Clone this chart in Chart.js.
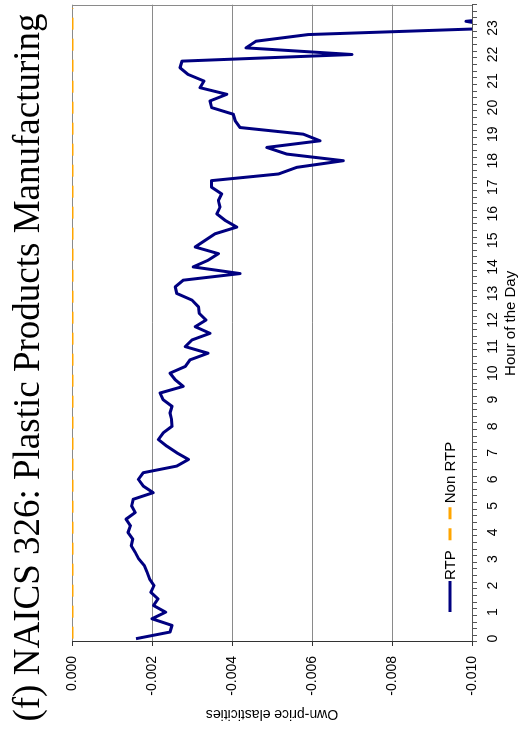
<!DOCTYPE html>
<html>
<head>
<meta charset="utf-8">
<script src="https://cdn.jsdelivr.net/npm/chart.js@4"></script>
<style>
  html, body { margin: 0; padding: 0; background: #fff; overflow: hidden; }
  #wrap { position: absolute; left: 0; top: 0; width: 731px; height: 521px;
          transform-origin: 0 0; transform: translateY(731px) rotate(-90deg); }
</style>
</head>
<body>
<div id="wrap"><canvas id="c" width="731" height="521"></canvas></div>
<script>
// ---- data (15-minute intervals) ----
const categories = [
 "0:00","0:15","0:30","0:45","1:00","1:15","1:30","1:45","2:00","2:15","2:30","2:45",
 "3:00","3:15","3:30","3:45","4:00","4:15","4:30","4:45","5:00","5:15","5:30","5:45",
 "6:00","6:15","6:30","6:45","7:00","7:15","7:30","7:45","8:00","8:15","8:30","8:45",
 "9:00","9:15","9:30","9:45","10:00","10:15","10:30","10:45","11:00","11:15","11:30","11:45",
 "12:00","12:15","12:30","12:45","13:00","13:15","13:30","13:45","14:00","14:15","14:30","14:45",
 "15:00","15:15","15:30","15:45","16:00","16:15","16:30","16:45","17:00","17:15","17:30","17:45",
 "18:00","18:15","18:30","18:45","19:00","19:15","19:30","19:45","20:00","20:15","20:30","20:45",
 "21:00","21:15","21:30","21:45","22:00","22:15","22:30","22:45","23:00","23:15","23:30","23:45"
];
const hourTickLabels = ["0","1","2","3","4","5","6","7","8","9","10","11",
  "12","13","14","15","16","17","18","19","20","21","22","23"];
const rtpValues = [
 -0.0016, -0.00245, -0.0025, -0.0020, -0.00234, -0.00204, -0.00215, -0.00197,
 -0.00205, -0.00194, -0.00188, -0.00181, -0.00167, -0.00158, -0.00148, -0.00152,
 -0.0014, -0.00146, -0.00135, -0.00158, -0.00149, -0.00153, -0.00203, -0.00178,
 -0.00166, -0.00178, -0.00262, -0.00291, -0.00262, -0.00237, -0.00216, -0.00228,
 -0.0025, -0.00249, -0.00245, -0.0025, -0.00228, -0.0022, -0.00278, -0.00258,
 -0.00245, -0.00283, -0.00295, -0.0034, -0.00283, -0.003, -0.00345, -0.00308,
 -0.00335, -0.00318, -0.00316, -0.003, -0.00262, -0.00258, -0.00278, -0.0042,
 -0.00303, -0.0034, -0.00366, -0.00308, -0.00333, -0.00358, -0.00412, -0.00383,
 -0.00362, -0.0037, -0.00366, -0.00374, -0.00349, -0.00349, -0.00516, -0.00562,
 -0.00678, -0.00537, -0.00487, -0.0062, -0.00578, -0.0042, -0.00408, -0.00403,
 -0.00349, -0.00345, -0.00387, -0.0032, -0.0033, -0.0029, -0.0027, -0.00275,
 -0.0070, -0.00435, -0.0046, -0.0059, -0.0108, -0.00985, -0.0115, -0.0115
];
const nonRtpValues = [
 0,0,0,0,0,0,0,0,0,0,0,0,0,0,0,0,0,0,0,0,0,0,0,0,
 0,0,0,0,0,0,0,0,0,0,0,0,0,0,0,0,0,0,0,0,0,0,0,0,
 0,0,0,0,0,0,0,0,0,0,0,0,0,0,0,0,0,0,0,0,0,0,0,0,
 0,0,0,0,0,0,0,0,0,0,0,0,0,0,0,0,0,0,0,0,0,0,0,0
];
const elasticityTicks = [-0.010, -0.008, -0.006, -0.004, -0.002, 0.000];
const elasticityTickLabels = ["-0.010", "-0.008", "-0.006", "-0.004", "-0.002", "0.000"];
const seriesNames = ["RTP", "Non RTP"];
const titleText = "(f) NAICS 326: Plastic Products Manufacturing";

// ---- styles ----
const RTP_COLOR = '#000080';
const NONRTP_COLOR = '#FFA500';
const SANS = "'Liberation Sans', Arial, sans-serif";

const frameRight = {
  id: 'frameRight',
  beforeDatasetsDraw(chart) {
    const {ctx, chartArea: a} = chart;
    ctx.save();
    ctx.strokeStyle = '#8a8a8a';
    ctx.lineWidth = 1;
    ctx.beginPath();
    ctx.moveTo(Math.round(a.right) - 0.5, a.top);
    ctx.lineTo(Math.round(a.right) - 0.5, a.bottom);
    ctx.stroke();
    ctx.restore();
  }
};

const innerLegend = {
  id: 'innerLegend',
  afterDatasetsDraw(chart) {
    const {ctx, chartArea: a} = chart;
    const ds = chart.data.datasets;
    const y = a.bottom - 22;
    let x = a.left + 30;
    ctx.save();
    ctx.font = "15px " + SANS;
    ctx.textBaseline = 'middle';
    ctx.fillStyle = '#000';
    ds.forEach((d, i) => {
      ctx.strokeStyle = d.borderColor;
      ctx.lineWidth = d.borderWidth;
      ctx.setLineDash(d.borderDash || []);
      ctx.beginPath();
      ctx.moveTo(x, y);
      ctx.lineTo(x + (i === 0 ? 31 : 35), y);
      ctx.stroke();
      ctx.setLineDash([]);
      x += (i === 0 ? 32 : 37);
      ctx.fillText(d.label, x, y + 1);
      x += ctx.measureText(d.label).width + 10;
    });
    ctx.restore();
  }
};

new Chart(document.getElementById('c'), {
  type: 'line',
  data: {
    labels: categories,
    datasets: [
      { label: seriesNames[0], data: rtpValues, borderColor: RTP_COLOR, borderWidth: 3,
        pointRadius: 0, tension: 0, clip: 0, borderJoinStyle: 'round' },
      { label: seriesNames[1], data: nonRtpValues, borderColor: NONRTP_COLOR, borderWidth: 3,
        borderDash: [12, 9], pointRadius: 0, tension: 0 }
    ]
  },
  options: {
    responsive: false,
    animation: false,
    devicePixelRatio: 1,
    layout: { padding: { left: 0, right: 4, top: 0, bottom: 0 } },
    plugins: {
      legend: { display: false },
      tooltip: { enabled: false },
      title: {
        display: true, text: titleText, color: '#000',
        font: { family: "'Liberation Serif', 'Times New Roman', serif", size: 37, weight: 'normal', lineHeight: 1.2 },
        padding: { top: 7, bottom: 20.6 }
      }
    },
    scales: {
      x: {
        type: 'category',
        offset: true,
        grid: { display: true, drawOnChartArea: false, offset: true, tickLength: 5, color: '#555', tickColor: '#555' },
        border: { display: true, color: '#555', width: 1 },
        ticks: {
          autoSkip: false, maxRotation: 0, minRotation: 0, padding: 8, color: '#000',
          font: { family: SANS, size: 14 },
          callback: (v, i) => (i % 4 === 0 ? hourTickLabels[i / 4] : '')
        },
        title: { display: true, text: 'Hour of the Day', color: '#000',
          font: { family: SANS, size: 15 }, padding: { top: 0, bottom: 1 } },
        afterFit: (s) => { s.height = 49; }
      },
      y: {
        min: -0.010, max: 0,
        afterBuildTicks: (s) => { s.ticks = elasticityTicks.map(v => ({ value: v })); },
        grid: { color: '#8a8a8a', tickColor: '#333', tickLength: 4, lineWidth: 1 },
        border: { display: true, color: '#333', width: 1 },
        ticks: {
          padding: 10, color: '#000', font: { family: SANS, size: 14 },
          callback: (v, i) => elasticityTickLabels[i]
        },
        title: { display: true, text: 'Own-price elasticities', color: '#000',
          font: { family: SANS, size: 14 }, padding: { top: 9, bottom: 0 } },
        afterFit: (s) => { s.width = 89; }
      }
    }
  },
  plugins: [frameRight, innerLegend]
});
</script>
</body>
</html>
